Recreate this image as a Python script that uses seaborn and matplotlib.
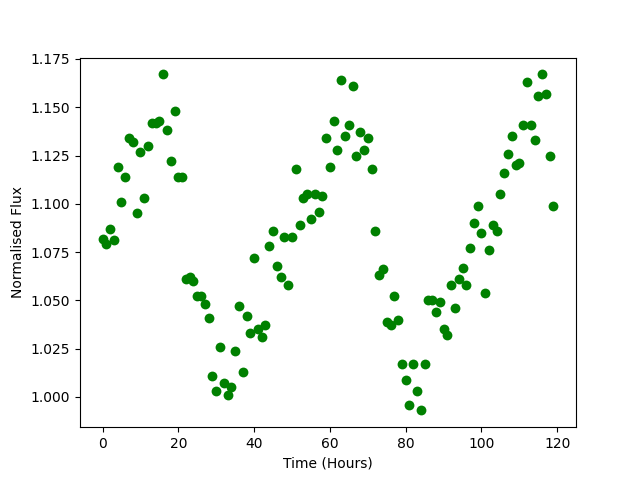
import matplotlib
matplotlib.use('Agg')
import matplotlib.pyplot as plt
import seaborn as sns
import numpy as np

hours = np.arange(120)
flux = [
    1.082, 1.079, 1.087, 1.081, 1.119, 1.101, 1.114, 1.134, 1.132, 1.095,
    1.127, 1.103, 1.130, 1.142, 1.142, 1.143, 1.167, 1.138, 1.122, 1.148,
    1.114, 1.114, 1.061, 1.062, 1.060, 1.052, 1.052, 1.048, 1.041, 1.011,
    1.003, 1.026, 1.007, 1.001, 1.005, 1.024, 1.047, 1.013, 1.042, 1.033,
    1.072, 1.035, 1.031, 1.037, 1.078, 1.086, 1.068, 1.062, 1.083, 1.058,
    1.083, 1.118, 1.089, 1.103, 1.105, 1.092, 1.105, 1.096, 1.104, 1.134,
    1.119, 1.143, 1.128, 1.164, 1.135, 1.141, 1.161, 1.125, 1.137, 1.128,
    1.134, 1.118, 1.086, 1.063, 1.066, 1.039, 1.037, 1.052, 1.040, 1.017,
    1.009, 0.996, 1.017, 1.003, 0.993, 1.017, 1.050, 1.050, 1.044, 1.049,
    1.035, 1.032, 1.058, 1.046, 1.061, 1.067, 1.058, 1.077, 1.090, 1.099,
    1.085, 1.054, 1.076, 1.089, 1.086, 1.105, 1.116, 1.126, 1.135, 1.120,
    1.121, 1.141, 1.163, 1.141, 1.133, 1.156, 1.167, 1.157, 1.125, 1.099,
]

fig, ax = plt.subplots(figsize=(6.4, 4.8), dpi=100)
sns.scatterplot(x=hours, y=flux, color='green', s=50, linewidth=0, ax=ax)
ax.set_xlabel('Time (Hours)')
ax.set_ylabel('Normalised Flux')
fig.savefig('out.png')
plt.close(fig)
